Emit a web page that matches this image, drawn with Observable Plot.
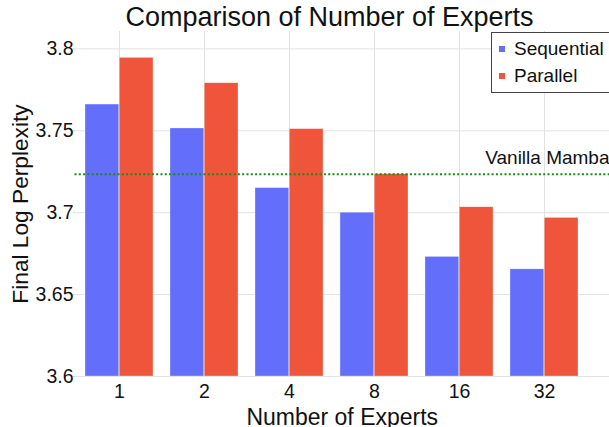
<!DOCTYPE html>
<html><head><meta charset="utf-8">
<script src="https://cdn.jsdelivr.net/npm/d3@7"></script>
<script src="https://cdn.jsdelivr.net/npm/@observablehq/plot@0.6"></script>
<style>
body{margin:0;background:#fff;}
#wrap{position:relative;width:609px;height:427px;overflow:hidden;font-family:"Liberation Sans",Arial,sans-serif;color:#111;}
#chart{position:absolute;left:0;top:0;}
#title{position:absolute;left:0;top:4px;width:659px;text-align:center;font-size:27px;line-height:27px;}
#legend{position:absolute;left:491px;top:32px;width:140px;height:59px;border:1px solid #444;background:#fff;font-size:19px;}
.item{position:absolute;left:0;height:27px;line-height:27px;white-space:nowrap}
.sw{position:absolute;left:7px;top:10.5px;width:6px;height:6px}
.lab{position:absolute;left:22px;top:0}
</style></head><body>
<div id="wrap"><div id="chart"></div><div id="title"></div><div id="legend"></div></div>
<script>
const experts = ["1","2","4","8","16","32"];
const sequential = [3.766, 3.7514, 3.715, 3.700, 3.673, 3.6654];
const parallel = [3.7945, 3.779, 3.751, 3.7235, 3.7033, 3.6968];
const vanillaMamba = 3.7235;
const vanillaLabel = "Vanilla Mamba";
const yTicks = [3.6, 3.65, 3.7, 3.75, 3.8];
const yTickLabels = ["3.6", "3.65", "3.7", "3.75", "3.8"];
const yMax = 3.8106;
const seriesNames = ["Sequential", "Parallel"];
const seriesColors = ["#636EFA", "#EF553B"];
const titleText = "Comparison of Number of Experts";
const xLabel = "Number of Experts";
const yLabel = "Final Log Perplexity";

const W = 609, H = 427;
const mL = 74.5, mR = 0, mT = 31, mB = 51;
const xRange = [mL, 587.8];
const band = d3.scaleBand().domain(experts).range(xRange).paddingInner(0.2).paddingOuter(0.1);
const half = band.bandwidth() / 2;

const seqData = experts.map((e, i) => ({expert: e, value: sequential[i]}));
const parData = experts.map((e, i) => ({expert: e, value: parallel[i]}));
const yTickData = yTicks.map((v, i) => ({v, label: yTickLabels[i]}));
const yMin = yTicks[0];

const chart = Plot.plot({
  width: W, height: H,
  marginLeft: mL, marginRight: mR, marginTop: mT, marginBottom: mB,
  style: {fontFamily: '"Liberation Sans", Arial, sans-serif', fontSize: "18px", color: "#111", background: "#fff"},
  x: {type: "band", domain: experts, range: xRange, paddingInner: 0.2, paddingOuter: 0.1, axis: null},
  y: {domain: [yMin, yMax], axis: null},
  marks: [
    Plot.gridY(yTicks, {stroke: "#e2e2e2", strokeOpacity: 1, strokeWidth: 1}),
    Plot.gridX(experts, {stroke: "#e2e2e2", strokeOpacity: 1, strokeWidth: 1}),
    Plot.barY(seqData, {x: "expert", y1: () => yMin, y2: "value", fill: seriesColors[0], insetLeft: 0, insetRight: half, stroke: "#fff", strokeWidth: 0.5, strokeOpacity: 0.6}),
    Plot.barY(parData, {x: "expert", y1: () => yMin, y2: "value", fill: seriesColors[1], insetLeft: half, insetRight: 0, stroke: "#fff", strokeWidth: 0.5, strokeOpacity: 0.6}),
    Plot.ruleY([vanillaMamba], {stroke: "#1a8a1a", strokeWidth: 2, strokeDasharray: "2,2.3"}),
    Plot.text([vanillaLabel], {frameAnchor: "right", y: () => vanillaMamba, textAnchor: "end", lineAnchor: "middle", dy: -16, fontSize: 19, fill: "#111"}),
    Plot.axisY(yTicks, {tickSize: 1.5, stroke: "#cfcfcf", tickFormat: () => "", label: null}),
    Plot.text(yTickData, {y: "v", text: "label", frameAnchor: "left", textAnchor: "end", lineAnchor: "middle", dx: -1.5, fontSize: 19.5, fill: "#111"}),
    Plot.text(experts, {x: d => d, text: d => d, frameAnchor: "bottom", textAnchor: "middle", lineAnchor: "middle", dy: 15, fontSize: 19.5, fill: "#111"}),
    Plot.text([xLabel], {frameAnchor: "bottom", textAnchor: "middle", lineAnchor: "middle", dy: 41.5, fontSize: 23, fill: "#111"}),
    Plot.text([yLabel], {frameAnchor: "left", textAnchor: "middle", lineAnchor: "middle", rotate: -90, dx: -54.7, fontSize: 22.7, fill: "#111"})
  ]
});
document.getElementById("chart").appendChild(chart);
document.getElementById("title").textContent = titleText;
const leg = document.getElementById("legend");
seriesNames.forEach((n, i) => {
  const it = document.createElement("div");
  it.className = "item";
  it.style.top = (2 + i * 27) + "px";
  it.innerHTML = `<span class="sw" style="background:${seriesColors[i]}"></span><span class="lab"></span>`;
  it.querySelector(".lab").textContent = n;
  leg.appendChild(it);
});
</script>
</body></html>
